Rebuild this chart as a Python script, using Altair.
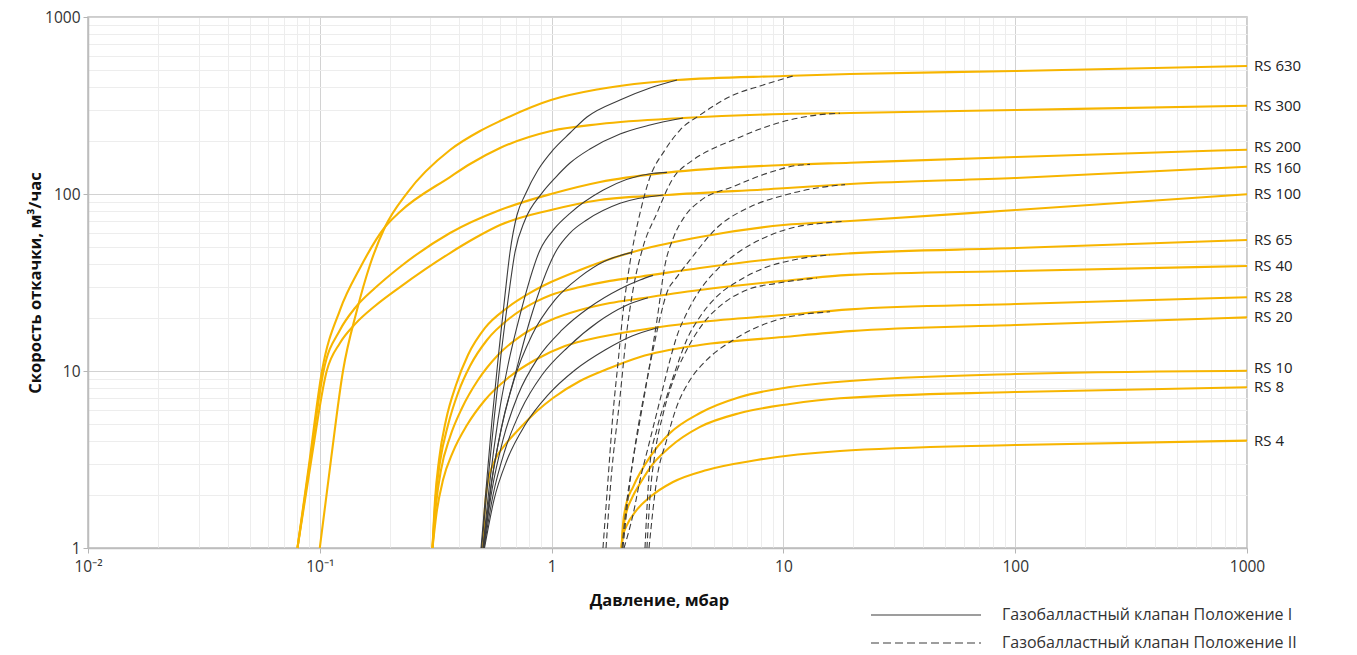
import altair as alt
import pandas as pd

# ---- pumping-speed curves: pressure (mbar) and speed (m3/h) ----
P_RS630 = [0.1, 0.1117, 0.1259, 0.1447, 0.1646, 0.1911, 0.2378, 0.3645, 0.4912, 0.599, 0.994, 1.618, 3.475, 10, 19.38, 100, 1000]
V_RS630 = [1, 3.14, 10, 22.1, 39.7, 65.1, 101.3, 177.3, 227, 258.4, 339.8, 391.9, 440.6, 464.2, 476.4, 495.3, 528.7]
P_RS300 = [0.0801, 0.0898, 0.1022, 0.1222, 0.1491, 0.1911, 0.2218, 0.3645, 0.4446, 0.599, 0.994, 1.618, 3.689, 10, 19.38, 100, 1000]
V_RS300 = [1, 2.94, 10, 22.1, 38.2, 65.1, 79.4, 124.7, 147.7, 181.9, 227, 248.6, 268.8, 283.1, 286.8, 298.2, 315.4]
P_RS200 = [0.0801, 0.0907, 0.1038, 0.1222, 0.1419, 0.173, 0.2218, 0.3645, 0.599, 0.994, 1.618, 3.146, 10, 19.38, 100, 1000]
V_RS200 = [1, 3.06, 10, 17.05, 22.7, 29.4, 38.7, 60.2, 81.2, 100, 116.9, 132, 145.8, 150.3, 161.8, 178]
P_RS160 = [0.0801, 0.0916, 0.1071, 0.1222, 0.1419, 0.173, 0.2218, 0.3645, 0.4673, 0.599, 0.994, 1.618, 3.146, 10, 19.38, 100, 1000]
V_RS160 = [1, 3.06, 10, 14.4, 18.4, 23.3, 29.8, 46.4, 56.4, 66.8, 81.2, 92.5, 98.7, 107.7, 113.9, 123.1, 142.6]
P_RS100 = [0.3063, 0.3141, 0.3267, 0.3503, 0.3869, 0.4358, 0.5161, 0.6422, 0.807, 0.994, 1.326, 1.786, 2.407, 4.368, 10, 19.38, 100, 1000]
V_RS100 = [1, 1.87, 3.14, 5.29, 8.33, 12.31, 17.5, 22.7, 27.6, 31.8, 37.2, 42.9, 48.3, 57.2, 66.8, 70.4, 81.2, 99.6]
P_RS65 = [0.3063, 0.3155, 0.330, 0.3574, 0.3947, 0.4446, 0.5264, 0.6616, 0.8479, 0.994, 1.326, 1.786, 2.407, 4.368, 10, 19.38, 100, 1000]
V_RS65 = [1, 1.87, 3.06, 4.95, 7.51, 10.67, 14.97, 19.93, 24.5, 26.9, 29.8, 32.3, 34.1, 38.2, 43.5, 46.2, 49.5, 55.0]
P_RS40 = [0.3063, 0.3171, 0.3333, 0.3645, 0.4107, 0.4814, 0.5872, 0.7454, 0.994, 1.326, 1.786, 2.407, 4.368, 10, 19.38, 100, 1000]
V_RS40 = [1, 1.75, 2.76, 4.24, 6.18, 8.89, 12.31, 15.97, 19.42, 22.1, 24.2, 25.7, 28.7, 32.3, 34.9, 36.7, 39.2]
P_RS28 = [0.3063, 0.3203, 0.340, 0.3754, 0.4316, 0.5161, 0.6486, 0.8479, 1.142, 1.618, 2.407, 4.368, 10, 19.38, 100, 1000]
V_RS28 = [1, 1.64, 2.42, 3.49, 4.95, 6.86, 9.13, 11.54, 13.84, 15.56, 17.05, 18.92, 20.72, 22.3, 23.9, 26.1]
P_RS20 = [0.506, 0.5135, 0.5264, 0.570, 0.6295, 0.7306, 0.865, 1.014, 1.326, 1.786, 2.407, 4.368, 10, 19.38, 100, 1000]
V_RS20 = [1, 1.54, 2.21, 3.14, 3.82, 4.76, 5.94, 7.04, 8.78, 10.4, 12.0, 14.03, 15.56, 16.8, 18.2, 20.1]
P_RS10 = [2.003, 2.032, 2.094, 2.245, 2.658, 3.242, 4.368, 6.50, 10.68, 17.54, 100, 1000]
V_RS10 = [1, 1.35, 1.75, 2.21, 3.27, 4.46, 5.79, 7.13, 8.12, 8.70, 9.62, 10.04]
P_RS8 = [2.003, 2.032, 2.094, 2.223, 2.43, 2.711, 3.242, 4.368, 6.50, 10.68, 17.54, 100, 1000]
V_RS8 = [1, 1.26, 1.56, 1.92, 2.36, 2.94, 3.72, 4.83, 5.79, 6.51, 7.01, 7.61, 8.09]
P_RS4 = [2.003, 2.032, 2.115, 2.312, 2.658, 3.34, 4.68, 7.69, 17.54, 100, 1000]
V_RS4 = [1, 1.17, 1.35, 1.62, 1.94, 2.36, 2.76, 3.14, 3.53, 3.82, 4.04]

# ---- gas ballast valve, position I ----
P_G1_630 = [0.4961, 0.5212, 0.5532, 0.5931, 0.6295, 0.6616, 0.7091, 0.7679, 0.8735, 1.014, 1.2, 1.421, 1.973, 2.658, 3.475]
V_G1_630 = [1, 2.13, 5.29, 13.14, 26.9, 47.0, 76.1, 98.7, 136.6, 177.3, 221.1, 272.3, 339.8, 397.1, 440.6]
P_G1_300 = [0.4986, 0.5264, 0.5643, 0.6049, 0.6486, 0.6952, 0.7679, 0.9065, 1.034, 1.2, 1.464, 1.973, 2.658, 3.689]
V_G1_300 = [1, 2.13, 5.29, 12.31, 25.2, 47.0, 71.3, 100.9, 123.1, 149.7, 179.6, 218.3, 245.4, 268.8]
P_G1_200 = [0.506, 0.5424, 0.5872, 0.6486, 0.7306, 0.8913, 1.034, 1.2, 1.672, 2.746, 3.146]
V_G1_200 = [1, 2.42, 5.29, 10.81, 20.72, 48.3, 64.3, 77.8, 105.3, 130.9, 132.5]
P_G1_160 = [0.511, 0.5532, 0.6109, 0.6952, 0.807, 1.052, 1.2, 1.417, 1.973, 3.033]
V_G1_160 = [1, 2.42, 4.95, 9.49, 19.42, 48.3, 60.2, 71.3, 88.6, 98.7]
P_G1_100 = [0.506, 0.5478, 0.6049, 0.6883, 0.8233, 1.034, 1.326, 1.70, 2.223]
V_G1_100 = [1, 2.27, 4.64, 8.89, 15.97, 25.2, 34.0, 41.8, 46.8]
P_G1_65 = [0.5085, 0.5532, 0.6170, 0.7161, 0.8735, 1.109, 1.464, 1.973, 2.407, 2.738]
V_G1_65 = [1, 2.13, 4.08, 7.32, 11.84, 17.05, 23.0, 29.1, 32.7, 34.7]
P_G1_40 = [0.511, 0.5588, 0.6295, 0.7379, 0.9091, 1.177, 1.586, 2.074, 2.605]
V_G1_40 = [1, 1.99, 3.58, 6.02, 9.49, 13.66, 18.92, 23.3, 25.9]
P_G1_28 = [0.5135, 0.5643, 0.6422, 0.7679, 0.965, 1.262, 1.70, 2.223, 2.849]
V_G1_28 = [1, 1.87, 3.14, 4.95, 7.32, 10.13, 13.14, 15.77, 17.5]

# ---- gas ballast valve, position II ----
P_G2_630 = [1.666, 1.751, 1.841, 1.934, 2.032, 2.178, 2.407, 2.632, 3.085, 3.581, 4.368, 6.08, 7.93, 11.0]
V_G2_630 = [1, 2.42, 5.79, 11.1, 21.3, 40.8, 78.1, 120, 177.3, 229.9, 279.4, 362.5, 407.6, 464]
P_G2_300 = [1.717, 1.804, 1.973, 2.115, 2.245, 2.48, 2.849, 3.307, 4.074, 4.825, 6.08, 7.93, 10.0, 13.92, 17.54]
V_G2_300 = [1, 2.42, 7.13, 17.05, 28.7, 50.2, 78.1, 120, 155.6, 177.3, 201.9, 232.9, 256.8, 279.4, 286]
P_G2_200 = [2.012, 2.115, 2.245, 2.407, 2.605, 2.849, 3.085, 3.35, 3.763, 4.368, 6.06, 8.50, 11.79, 13.02]
V_G2_200 = [1, 1.867, 3.14, 5.29, 9.49, 19.42, 39.7, 56.4, 75.1, 91.3, 110, 130.9, 145.8, 147]
P_G2_160 = [2.032, 2.158, 2.312, 2.504, 2.738, 2.936, 3.137, 3.475, 3.954, 5.156, 7.175, 10.16, 13.92, 18.44]
V_G2_160 = [1, 2.13, 4.08, 7.32, 13.14, 19.93, 27.5, 34.0, 42.4, 64.3, 84.5, 98.7, 108.1, 113]
P_G2_100 = [2.053, 2.252, 2.407, 2.613, 2.84, 3.033, 3.242, 3.465, 3.826, 4.368, 5.156, 6.29, 8.47, 11.41, 14.87, 18.13]
V_G2_100 = [1, 1.571, 2.42, 3.735, 5.77, 8.15, 11.54, 15.62, 21.18, 28.7, 37.2, 46.2, 57.4, 65.3, 68.4, 70.0]
P_G2_65 = [2.529, 2.572, 2.658, 2.84, 3.137, 3.465, 3.826, 4.368, 5.156, 6.50, 8.19, 11.41, 15.89]
V_G2_65 = [1, 1.571, 3.01, 4.64, 7.16, 10.58, 14.97, 20.27, 26.3, 32.7, 38.0, 42.8, 45.3]
P_G2_40 = [2.579, 2.658, 2.793, 3.033, 3.35, 3.826, 4.513, 5.505, 6.945, 9.36, 13.92]
V_G2_40 = [1, 1.95, 3.43, 5.77, 8.89, 13.14, 18.6, 24.1, 28.7, 31.3, 33.5]
P_G2_28 = [2.632, 2.84, 3.137, 3.465, 3.954, 4.67, 6.08, 9.36, 15.89]
V_G2_28 = [1, 2.42, 4.08, 6.29, 8.89, 11.54, 14.97, 19.42, 21.6]

MODELS = ["RS 630", "RS 300", "RS 200", "RS 160", "RS 100", "RS 65",
          "RS 40", "RS 28", "RS 20", "RS 10", "RS 8", "RS 4"]
MODEL_P = [P_RS630, P_RS300, P_RS200, P_RS160, P_RS100, P_RS65,
           P_RS40, P_RS28, P_RS20, P_RS10, P_RS8, P_RS4]
MODEL_V = [V_RS630, V_RS300, V_RS200, V_RS160, V_RS100, V_RS65,
           V_RS40, V_RS28, V_RS20, V_RS10, V_RS8, V_RS4]

G1_NAMES = ["630", "300", "200", "160", "100", "65", "40", "28"]
G1_P = [P_G1_630, P_G1_300, P_G1_200, P_G1_160, P_G1_100, P_G1_65, P_G1_40, P_G1_28]
G1_V = [V_G1_630, V_G1_300, V_G1_200, V_G1_160, V_G1_100, V_G1_65, V_G1_40, V_G1_28]
G2_NAMES = ["630", "300", "200", "160", "100", "65", "40", "28"]
G2_P = [P_G2_630, P_G2_300, P_G2_200, P_G2_160, P_G2_100, P_G2_65, P_G2_40, P_G2_28]
G2_V = [V_G2_630, V_G2_300, V_G2_200, V_G2_160, V_G2_100, V_G2_65, V_G2_40, V_G2_28]

LEGEND_LABELS = ["Газобалластный клапан Положение I", "Газобалластный клапан Положение II"]

X_TITLE = "Давление, мбар"
Y_TITLE = "Скорость откачки, м³/час"


def long_table(names, plist, vlist, prefix):
    rows = []
    for name, ps, vs in zip(names, plist, vlist):
        for i, (p, v) in enumerate(zip(ps, vs)):
            rows.append({"series": prefix + name, "name": name, "p": p, "v": v, "i": i})
    return pd.DataFrame(rows)


main_df = long_table(MODELS, MODEL_P, MODEL_V, "M ")
g1_df = long_table(G1_NAMES, G1_P, G1_V, "G1 ")
g2_df = long_table(G2_NAMES, G2_P, G2_V, "G2 ")
end_df = pd.DataFrame({"name": MODELS, "p": [p[-1] for p in MODEL_P], "v": [v[-1] for v in MODEL_V]})

FONT = "Open Sans"
MAJOR = "abs(log(datum.value)/LN10 - round(log(datum.value)/LN10)) < 1e-6"

x_ticks = sorted({round(k * 10.0 ** e, 6) for e in range(-2, 3) for k in range(1, 10)} | {1000.0})
y_ticks = sorted({round(k * 10.0 ** e, 6) for e in range(0, 3) for k in range(1, 10)} | {1000.0})

x_scale = alt.Scale(type="log", domain=[0.01, 1000], nice=False)
y_scale = alt.Scale(type="log", domain=[1, 1000], nice=False)

x_axis = alt.Axis(
    values=x_ticks,
    labelExpr="datum.value == 0.01 ? '10⁻²' : datum.value == 0.1 ? '10⁻¹' : (" + MAJOR + " ? format(datum.value, 'd') : '')",
    gridColor={"condition": {"test": MAJOR, "value": "#d2d2d2"}, "value": "#ededed"},
    tickColor={"condition": {"test": MAJOR, "value": "#b5b5b5"}, "value": "rgba(0,0,0,0)"},
    title=X_TITLE, titleX=571, titleY=52, titleAlign="center", titleBaseline="middle",
    labelFlush=False, labelOverlap=False, labelPadding=6,
)
y_axis = alt.Axis(
    values=y_ticks,
    labelExpr="(" + MAJOR + ") ? format(datum.value, 'd') : ''",
    gridColor={"condition": {"test": MAJOR, "value": "#d2d2d2"}, "value": "#ededed"},
    tickColor={"condition": {"test": MAJOR, "value": "#b5b5b5"}, "value": "rgba(0,0,0,0)"},
    title=Y_TITLE, titleX=-53, titleY=265.5, titleAngle=-90, titleAlign="center", titleBaseline="middle",
    labelFlush=False, labelOverlap=False, labelPadding=3,
)

base_x = alt.X("p:Q", scale=x_scale, axis=x_axis)
base_y = alt.Y("v:Q", scale=y_scale, axis=y_axis)

curves = alt.Chart(main_df).mark_line(
    color="#F7B500", strokeWidth=2.1, interpolate="monotone"
).encode(x=base_x, y=base_y, detail="series:N", order="i:Q")

pos1 = alt.Chart(g1_df).mark_line(
    color="#3c3c3c", strokeWidth=1.1, interpolate="monotone"
).encode(x="p:Q", y="v:Q", detail="series:N", order="i:Q")

pos2 = alt.Chart(g2_df).mark_line(
    color="#3c3c3c", strokeWidth=1.1, strokeDash=[6, 3.5], interpolate="monotone"
).encode(x="p:Q", y="v:Q", detail="series:N", order="i:Q")

# end-of-line model names; names of close neighbours are eased apart a little
label_style = dict(align="left", baseline="middle", dx=7, fontSize=15, font=FONT, color="#222222")
raised = "datum.name == 'RS 10' || datum.name == 'RS 200'"
lowered = "datum.name == 'RS 160'"
labels = alt.Chart(end_df).transform_filter(
    "!(" + raised + ") && !(" + lowered + ")"
).mark_text(**label_style).encode(x="p:Q", y="v:Q", text="name:N")
labels_up = alt.Chart(end_df).transform_filter(raised).mark_text(
    dy=-2.5, **label_style
).encode(x="p:Q", y="v:Q", text="name:N")
labels_down = alt.Chart(end_df).transform_filter(lowered).mark_text(
    dy=1, **label_style
).encode(x="p:Q", y="v:Q", text="name:N")

leg_rows = []
for k, (label, dash) in enumerate(zip(LEGEND_LABELS, [[1, 0], [8, 4]])):
    row_df = pd.DataFrame({"label": [label]})
    ypos = 598 + 28 * k
    leg_rows.append(
        alt.Chart(row_df).mark_rule(color="#3c3c3c", strokeWidth=1.1, strokeDash=dash)
        .encode(x=alt.value(783), x2=alt.value(893), y=alt.value(ypos))
    )
    leg_rows.append(
        alt.Chart(row_df).mark_text(align="left", baseline="middle", fontSize=16, font=FONT, color="#333333")
        .encode(x=alt.value(914), y=alt.value(ypos), text="label:N")
    )

chart = alt.layer(curves, pos1, pos2, labels, labels_up, labels_down, *leg_rows).properties(
    width=1159, height=531,
    autosize=alt.AutoSizeParams(type="none"),
    padding={"left": 88, "top": 17, "right": 110, "bottom": 107},
).configure_view(
    stroke="#bdbdbd", strokeWidth=1.5
).configure_axis(
    labelFont=FONT, labelFontSize=15.5, labelColor="#333333",
    titleFont=FONT, titleFontSize=16.5, titleFontWeight="bold", titleColor="#111111",
    domainColor="#bdbdbd", domainWidth=1.5, tickSize=5,
)

chart.save("out.html", embed_options={"renderer": "svg", "actions": False})
